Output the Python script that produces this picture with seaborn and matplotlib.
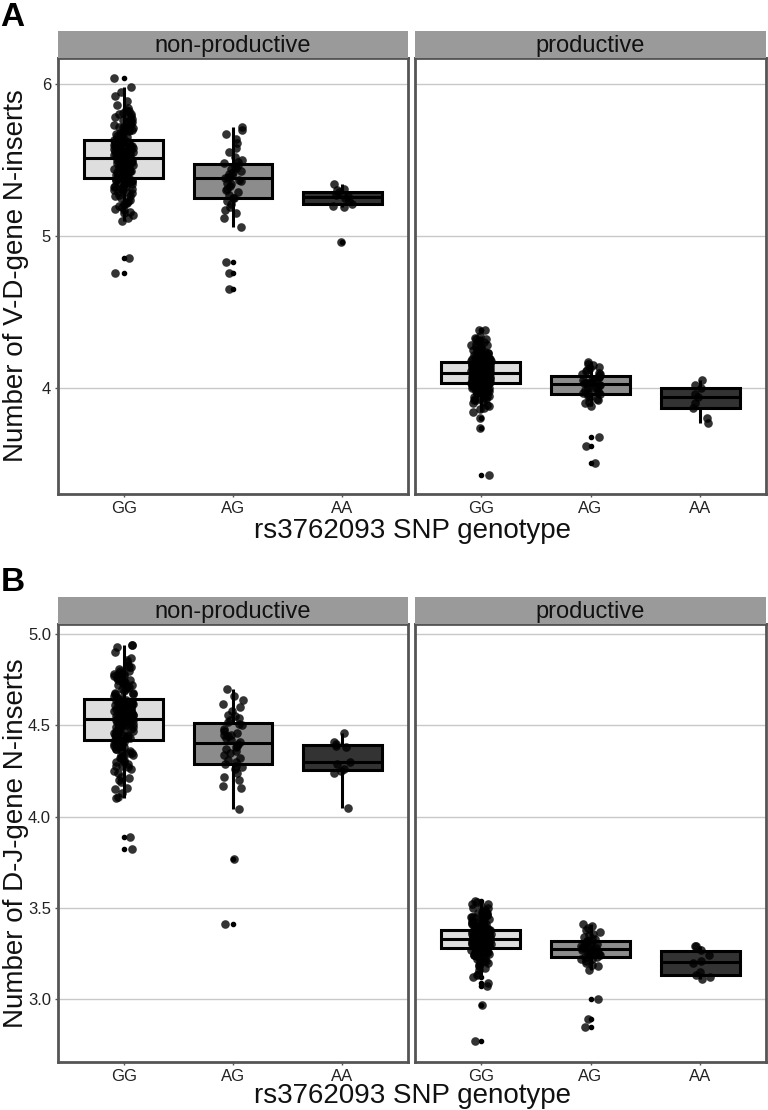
import numpy as np
import pandas as pd
import matplotlib
matplotlib.use("Agg")
import matplotlib.pyplot as plt
import seaborn as sns

# categories
genotypes = ["GG", "AG", "AA"]
facets = ["non-productive", "productive"]
box_colors = ["#dedede", "#8c8c8c", "#333333"]

# --- V-D N-inserts, non-productive ---
vd_np_gg = [4.76, 4.855,
            5.10, 5.12, 5.14, 5.15, 5.17, 5.18, 5.20, 5.21, 5.22, 5.24, 5.25, 5.26, 5.27, 5.28, 5.29, 5.30,
            5.31, 5.32, 5.33, 5.34, 5.35, 5.35, 5.36, 5.37, 5.37,
            5.38, 5.39, 5.39, 5.40, 5.41, 5.41, 5.42, 5.42, 5.43, 5.44, 5.44, 5.45, 5.45, 5.46, 5.46, 5.47,
            5.47, 5.48, 5.48, 5.49, 5.49, 5.50, 5.50, 5.50, 5.51,
            5.51, 5.52, 5.52, 5.53, 5.53, 5.54, 5.54, 5.55, 5.55, 5.56, 5.56, 5.57, 5.57, 5.58, 5.58, 5.59,
            5.59, 5.60, 5.60, 5.61, 5.61, 5.62, 5.62, 5.62, 5.63,
            5.63, 5.64, 5.65, 5.66, 5.67, 5.68, 5.69, 5.70, 5.71, 5.72, 5.73, 5.74, 5.75, 5.76, 5.77, 5.78,
            5.79, 5.80, 5.81, 5.82, 5.84, 5.86, 5.89, 5.92, 5.95,
            5.16, 5.19, 5.22, 5.23, 5.26, 5.28, 5.30, 5.31, 5.32, 5.33, 5.34, 5.35, 5.36, 5.36, 5.37, 5.38,
            5.39, 5.40, 5.40, 5.41, 5.42, 5.43, 5.43, 5.44, 5.45, 5.46, 5.47, 5.47, 5.48, 5.49, 5.50, 5.51,
            5.51, 5.52, 5.53, 5.53, 5.54, 5.55, 5.55, 5.56, 5.57, 5.58, 5.58, 5.59, 5.60, 5.61, 5.61, 5.62,
            5.63, 5.64, 5.65, 5.66, 5.67, 5.68, 5.69, 5.70, 5.71, 5.72, 5.73, 5.74, 5.75, 5.76, 5.78, 5.80,
            5.83, 5.98, 6.04]
vd_np_ag = [4.65, 4.76, 4.83,
            5.06, 5.12, 5.15, 5.17, 5.19, 5.21, 5.23, 5.25, 5.25, 5.27, 5.29, 5.30, 5.31, 5.33, 5.34, 5.35,
            5.36, 5.37, 5.38, 5.39, 5.39, 5.40, 5.41, 5.42, 5.43, 5.44, 5.45, 5.46, 5.47, 5.48, 5.49, 5.50,
            5.52, 5.55, 5.58, 5.61, 5.64, 5.67, 5.70, 5.72]
vd_np_aa = [4.96, 5.19, 5.20, 5.21, 5.23, 5.25, 5.26, 5.27, 5.29, 5.30, 5.31, 5.34]

# --- V-D N-inserts, productive ---
vd_p_gg = [3.43, 3.74,
           3.80, 3.84, 3.87, 3.89, 3.91, 3.92, 3.93, 3.94, 3.95, 3.96, 3.97, 3.97, 3.98, 3.98, 3.99, 3.99,
           4.00, 4.00, 4.01, 4.01, 4.02, 4.02, 4.02, 4.03, 4.03,
           4.03, 4.04, 4.04, 4.05, 4.05, 4.05, 4.06, 4.06, 4.06, 4.07, 4.07, 4.07, 4.08, 4.08, 4.08, 4.08,
           4.09, 4.09, 4.09, 4.09, 4.10, 4.10, 4.10, 4.10, 4.10,
           4.10, 4.11, 4.11, 4.11, 4.12, 4.12, 4.12, 4.13, 4.13, 4.13, 4.13, 4.14, 4.14, 4.14, 4.15, 4.15,
           4.15, 4.15, 4.16, 4.16, 4.16, 4.16, 4.17, 4.17, 4.17,
           4.17, 4.18, 4.18, 4.19, 4.19, 4.20, 4.20, 4.21, 4.21, 4.22, 4.22, 4.23, 4.23, 4.24, 4.25, 4.25,
           4.26, 4.27, 4.28, 4.29, 4.30, 4.31, 4.32, 4.33, 4.34,
           3.90, 3.93, 3.95, 3.97, 3.98, 3.99, 4.00, 4.01, 4.02, 4.03, 4.03, 4.04, 4.05, 4.05, 4.06, 4.06,
           4.07, 4.07, 4.08, 4.08, 4.09, 4.09, 4.10, 4.10, 4.11, 4.11, 4.12, 4.12, 4.13, 4.13, 4.14, 4.14,
           4.15, 4.15, 4.16, 4.16, 4.17, 4.18, 4.19, 4.20, 4.21, 4.22, 4.23, 4.24, 4.25, 4.26, 4.27, 4.28,
           4.30, 4.32, 3.86, 3.88, 3.92, 3.94, 3.96, 4.00, 4.02, 4.04, 4.06, 4.08, 4.10, 4.12, 4.14, 4.16,
           4.18, 4.38, 4.38]
vd_p_ag = [3.51, 3.62, 3.68,
           3.88, 3.90, 3.91, 3.92, 3.93, 3.94, 3.95, 3.96, 3.96, 3.97, 3.97, 3.98, 3.99, 4.00, 4.00, 4.01,
           4.02, 4.02, 4.03, 4.03, 4.04, 4.04, 4.05, 4.05, 4.06, 4.07, 4.07, 4.08, 4.08, 4.09, 4.09, 4.10,
           4.11, 4.12, 4.13, 4.14, 4.15, 4.16, 4.17]
vd_p_aa = [3.77, 3.80, 3.87, 3.90, 3.94, 3.96, 4.00, 4.02, 4.05]

# --- D-J N-inserts, non-productive ---
dj_np_gg = [3.825, 3.89,
            4.10, 4.11, 4.13, 4.16, 4.19, 4.20, 4.22, 4.24, 4.26, 4.27, 4.28, 4.29, 4.30, 4.31, 4.32, 4.33,
            4.34, 4.35, 4.36, 4.37, 4.38, 4.39, 4.40, 4.41, 4.42,
            4.42, 4.43, 4.43, 4.44, 4.45, 4.45, 4.46, 4.46, 4.47, 4.47, 4.48, 4.48, 4.49, 4.49, 4.50, 4.50,
            4.51, 4.51, 4.52, 4.52, 4.52, 4.53, 4.53, 4.53, 4.53,
            4.54, 4.54, 4.55, 4.55, 4.56, 4.56, 4.57, 4.57, 4.58, 4.58, 4.59, 4.59, 4.60, 4.60, 4.61, 4.61,
            4.62, 4.62, 4.62, 4.63, 4.63, 4.63, 4.64, 4.64, 4.64,
            4.65, 4.66, 4.67, 4.68, 4.69, 4.70, 4.71, 4.72, 4.73, 4.74, 4.75, 4.76, 4.77, 4.78, 4.78, 4.79,
            4.80, 4.81, 4.82, 4.83, 4.85, 4.87, 4.90, 4.93, 4.94, 4.94,
            4.15, 4.21, 4.25, 4.28, 4.30, 4.32, 4.34, 4.35, 4.36, 4.37, 4.38, 4.39, 4.40, 4.41, 4.41, 4.42,
            4.43, 4.44, 4.44, 4.45, 4.46, 4.47, 4.47, 4.48, 4.49, 4.50, 4.50, 4.51, 4.52, 4.52, 4.53, 4.53,
            4.54, 4.55, 4.55, 4.56, 4.57, 4.57, 4.58, 4.59, 4.59, 4.60, 4.60, 4.61, 4.62, 4.62, 4.63, 4.63,
            4.56, 4.65, 4.67, 4.68, 4.70, 4.71, 4.72, 4.73, 4.74, 4.75, 4.76, 4.77, 4.78, 4.79, 4.80, 4.82,
            4.86]
dj_np_ag = [3.41, 3.77,
            4.04, 4.16, 4.17, 4.20, 4.22, 4.24, 4.26, 4.27, 4.28, 4.29, 4.30, 4.31, 4.32, 4.34, 4.35, 4.36,
            4.37, 4.38, 4.39, 4.40, 4.41, 4.42, 4.43, 4.44, 4.45, 4.45, 4.46, 4.47, 4.48, 4.50, 4.51, 4.52,
            4.53, 4.54, 4.55, 4.56, 4.58, 4.60, 4.62, 4.64, 4.66, 4.70]
dj_np_aa = [4.05, 4.24, 4.25, 4.26, 4.29, 4.30, 4.38, 4.39, 4.40, 4.41, 4.46]

# --- D-J N-inserts, productive ---
dj_p_gg = [2.77, 2.97,
           3.07, 3.09, 3.12, 3.14, 3.16, 3.18, 3.19, 3.20, 3.21, 3.22, 3.23, 3.23, 3.24, 3.24, 3.25, 3.25,
           3.26, 3.26, 3.26, 3.27, 3.27, 3.27, 3.28, 3.28, 3.28,
           3.28, 3.29, 3.29, 3.29, 3.29, 3.30, 3.30, 3.30, 3.30, 3.30, 3.31, 3.31, 3.31, 3.31, 3.31, 3.31,
           3.32, 3.32, 3.32, 3.32, 3.32, 3.32, 3.32, 3.32, 3.32,
           3.33, 3.33, 3.33, 3.34, 3.34, 3.34, 3.34, 3.35, 3.35, 3.35, 3.35, 3.36, 3.36, 3.36, 3.36, 3.37,
           3.37, 3.37, 3.37, 3.38, 3.38, 3.38, 3.38, 3.38, 3.39,
           3.39, 3.39, 3.40, 3.40, 3.41, 3.41, 3.42, 3.42, 3.43, 3.43, 3.44, 3.44, 3.45, 3.45, 3.46, 3.46,
           3.47, 3.47, 3.48, 3.49, 3.50, 3.51, 3.52, 3.53, 3.54,
           3.13, 3.17, 3.20, 3.22, 3.23, 3.24, 3.25, 3.26, 3.27, 3.28, 3.29, 3.29, 3.30, 3.30, 3.31, 3.31,
           3.32, 3.32, 3.33, 3.33, 3.34, 3.34, 3.35, 3.35, 3.36, 3.36, 3.37, 3.37, 3.38, 3.38, 3.39, 3.40,
           3.41, 3.42, 3.43, 3.44, 3.45, 3.46, 3.47, 3.48, 3.50, 3.52, 3.29, 3.31, 3.33, 3.35, 3.37, 3.30,
           3.32, 3.34, 3.36, 3.28, 3.26, 3.24, 3.21]
dj_p_ag = [2.85, 2.89, 3.00,
           3.16, 3.18, 3.19, 3.20, 3.21, 3.22, 3.22, 3.23, 3.23, 3.24, 3.24, 3.25, 3.25, 3.26, 3.26, 3.27,
           3.27, 3.27, 3.28, 3.28, 3.28, 3.29, 3.29, 3.30, 3.30, 3.31, 3.31, 3.32, 3.32, 3.33, 3.33, 3.34,
           3.35, 3.36, 3.37, 3.38, 3.39, 3.40, 3.41]
dj_p_aa = [3.11, 3.12, 3.13, 3.15, 3.20, 3.21, 3.24, 3.27, 3.29, 3.29]

# axis ticks
vd_ticks = [4, 5, 6]
vd_tick_labels = ["4", "5", "6"]
dj_ticks = [3.0, 3.5, 4.0, 4.5, 5.0]
dj_tick_labels = ["3.0", "3.5", "4.0", "4.5", "5.0"]


def to_long(groups):
    rows = []
    for facet, gt, vals in groups:
        for v in vals:
            rows.append((facet, gt, v))
    return pd.DataFrame(rows, columns=["facet", "genotype", "value"])


vd_df = to_long([
    ("non-productive", "GG", vd_np_gg), ("non-productive", "AG", vd_np_ag), ("non-productive", "AA", vd_np_aa),
    ("productive", "GG", vd_p_gg), ("productive", "AG", vd_p_ag), ("productive", "AA", vd_p_aa),
])
dj_df = to_long([
    ("non-productive", "GG", dj_np_gg), ("non-productive", "AG", dj_np_ag), ("non-productive", "AA", dj_np_aa),
    ("productive", "GG", dj_p_gg), ("productive", "AG", dj_p_ag), ("productive", "AA", dj_p_aa),
])

sns.set_theme(style="white")
plt.rcParams["font.family"] = ["Liberation Sans", "DejaVu Sans"]
np.random.seed(7)

W, H = 768, 1110
fig = plt.figure(figsize=(W / 100, H / 100), dpi=100)
panel_x = [(58, 408), (415, 766)]
border = "#555555"


def draw_row(df, top, bottom, ylim, ticks, tick_labels, ylabel, letter, letter_y, xlabel_y):
    for i, facet in enumerate(facets):
        x0, x1 = panel_x[i]
        ax = fig.add_axes([x0 / W, 1 - bottom / H, (x1 - x0) / W, (bottom - top) / H])
        sub = df[df["facet"] == facet]
        sns.boxplot(data=sub, x="genotype", y="value", hue="genotype", order=genotypes,
                    hue_order=genotypes, palette=box_colors, saturation=1, width=0.72,
                    linewidth=2.2, linecolor="black", fliersize=3,
                    flierprops={"marker": "o", "markerfacecolor": "black", "markeredgecolor": "black"},
                    capprops={"visible": False}, legend=False, ax=ax)
        sns.stripplot(data=sub, x="genotype", y="value", order=genotypes, color="black",
                      alpha=0.8, size=6.2, jitter=0.09, linewidth=0, zorder=3, ax=ax)
        ax.set_xlim(-0.6, 2.6)
        ax.set_ylim(*ylim)
        ax.set_yticks(ticks)
        ax.set_yticklabels(tick_labels)
        ax.set_xlabel("")
        ax.set_ylabel("")
        ax.grid(False)
        ax.yaxis.grid(True, color="#c8c8c8", linewidth=1.0)
        ax.set_axisbelow(True)
        for s in ax.spines.values():
            s.set_color(border)
            s.set_linewidth(2)
        ax.tick_params(axis="x", bottom=True, length=2.5, width=1, color=border, pad=2.5,
                       labelsize=12, labelcolor="#222222")
        ax.tick_params(axis="y", left=(i == 0), labelleft=(i == 0), length=2.5, width=1,
                       color=border, pad=2.5, labelsize=12, labelcolor="#222222")

        # facet strip
        sax = fig.add_axes([x0 / W, 1 - top / H, (x1 - x0) / W, 27 / H])
        sax.set_facecolor("#9a9a9a")
        sax.set_xticks([])
        sax.set_yticks([])
        for s in sax.spines.values():
            s.set_visible(False)
        sax.text(0.5, 0.45, facet, ha="center", va="center", fontsize=17, color="#111111",
                 transform=sax.transAxes)

    fig.text(16 / W, 1 - (top + bottom) / 2 / H, ylabel, rotation=90, ha="center", va="center",
             fontsize=20, color="#111111")
    fig.text(412 / W, 1 - xlabel_y / H, "rs3762093 SNP genotype", ha="center", va="baseline",
             fontsize=20, color="#111111")
    fig.text(0.5 / W, 1 - letter_y / H, letter, ha="left", va="baseline", fontsize=24,
             fontweight="bold", color="black")


draw_row(vd_df, 58, 494, (3.303, 6.171), vd_ticks, vd_tick_labels,
         "Number of V-D-gene N-inserts", "A", 26, 538)
draw_row(dj_df, 624, 1062, (2.656, 5.056), dj_ticks, dj_tick_labels,
         "Number of D-J-gene N-inserts", "B", 591, 1103)

fig.savefig("out.png", dpi=100)
